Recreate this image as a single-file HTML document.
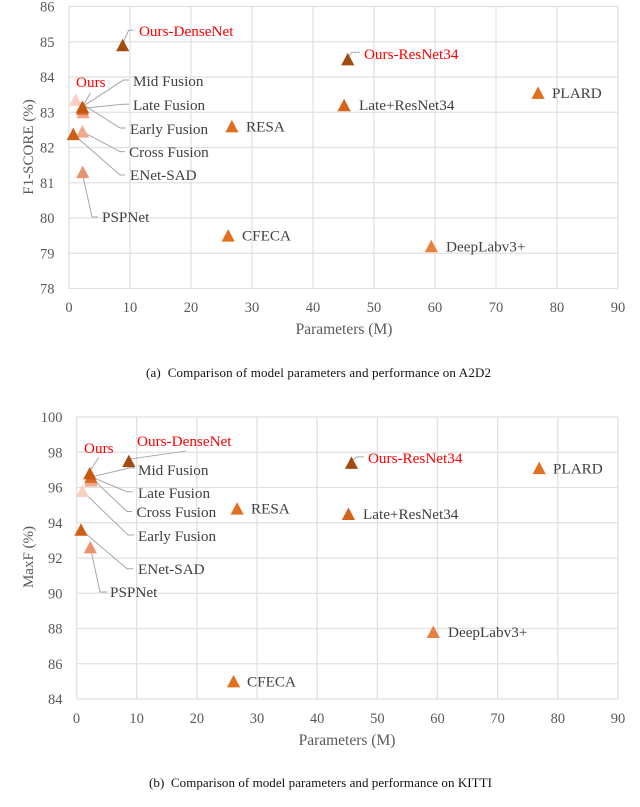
<!DOCTYPE html>
<html lang="en">
<head>
<meta charset="utf-8">
<title>Model parameters vs performance</title>
<style>
html,body{margin:0;padding:0;background:#fff;}
#stage{display:block;width:640px;height:807px;font-family:"Liberation Serif",serif;}
</style>
</head>
<body>
<svg id="stage" xmlns="http://www.w3.org/2000/svg" width="640" height="807" viewBox="0 0 640 807"></svg>
<script>
// ---- data ----
const modelNames = ["Late Fusion","Cross Fusion","Early Fusion","PSPNet","ENet-SAD","Mid Fusion","Ours","Ours-DenseNet","Ours-ResNet34","Late+ResNet34","RESA","CFECA","PLARD","DeepLabv3+"];
const a2d2Params = [2.3,2.2,1.1,2.25,0.7,2.2,2.2,8.8,45.7,45.1,26.7,26.1,76.9,59.4];
const a2d2Scores = [83.0,82.45,83.35,81.3,82.38,83.1,83.15,84.9,84.5,83.2,82.6,79.5,83.55,79.2];
const kittiParams = [2.4,2.4,1.0,2.3,0.75,2.4,2.2,8.7,45.7,45.2,26.7,26.1,76.9,59.3];
const kittiScores = [96.5,96.4,95.8,92.6,93.6,96.6,96.8,97.5,97.4,94.5,94.8,85.0,97.1,87.8];
const xTickLabels = [0,10,20,30,40,50,60,70,80,90];
const a2d2YTickLabels = [78,79,80,81,82,83,84,85,86];
const kittiYTickLabels = [84,86,88,90,92,94,96,98,100];

// ---- styling, keyed by model ----
const markerColors = {
  "Late Fusion":"#f2a487","Cross Fusion":"#f1a98e","Early Fusion":"#f9cfc2","PSPNet":"#ea9371",
  "ENet-SAD":"#cf5f18","Mid Fusion":"#d9692a","Ours":"#c4590f","Ours-DenseNet":"#a34c12",
  "Ours-ResNet34":"#a34c12","Late+ResNet34":"#d5641b","RESA":"#e0701f","CFECA":"#e0701f",
  "PLARD":"#e0701f","DeepLabv3+":"#e8813f"
};
const redLabels = ["Ours","Ours-DenseNet","Ours-ResNet34"];

// label offset from marker, then leader vertices relative to marker
const a2d2Layout = {
  "Ours-DenseNet":{label:[16.3,-14.3],leader:[[0,-2],[6,-15],[11,-15]]},
  "Ours":{label:[-6.4,-25],leader:[[1,-2],[8,-14]]},
  "Mid Fusion":{label:[50.6,-27.7],leader:[[0,-2],[41,-28.7],[46.6,-28.7]]},
  "Late Fusion":{label:[50,-7.2],leader:[[0,-4],[40,-8],[46,-8]]},
  "Early Fusion":{label:[54.3,29.1],leader:[[0,0],[44.3,28.1],[50.3,28.1]]},
  "Cross Fusion":{label:[46.6,20.3],leader:[[0,0],[37.6,20],[42.6,20]]},
  "ENet-SAD":{label:[56.7,40.9],leader:[[0,0],[46.7,40.9],[51.7,40.9]]},
  "PSPNet":{label:[19.3,44.8],leader:[[0,3],[9.3,44.8],[15.3,44.8]]},
  "RESA":{label:[14.1,0]},
  "CFECA":{label:[13.8,0]},
  "Ours-ResNet34":{label:[16.2,-5.4],leader:[[0,-2],[4,-7],[12,-7]]},
  "Late+ResNet34":{label:[14.9,0]},
  "PLARD":{label:[13.9,0]},
  "DeepLabv3+":{label:[14.7,0.5]}
};
const kittiLayout = {
  "Ours-DenseNet":{label:[8.2,-20.1],leader:[[1,-2],[57,-10]]},
  "Ours":{label:[-5.7,-25.4],leader:[[0,-2],[9,-16]]},
  "Mid Fusion":{label:[47,-6.9],leader:[[0,0],[39,-9],[44,-9]]},
  "Late Fusion":{label:[47,14.3],leader:[[0,-2],[36,13],[42,13]]},
  "Cross Fusion":{label:[45.5,31.5],leader:[[-1,-4],[36,31],[41,31]]},
  "Early Fusion":{label:[55.5,45],leader:[[0,0],[45.5,44],[51.5,44]]},
  "ENet-SAD":{label:[57,39.2],leader:[[0,0],[46,39],[52,39]]},
  "PSPNet":{label:[19.7,44.6],leader:[[0,0],[9.7,44.6],[16.7,44.6]]},
  "RESA":{label:[13.8,0]},
  "CFECA":{label:[13.5,0]},
  "Ours-ResNet34":{label:[16.5,-4.8],leader:[[0,-2],[5.5,-6],[12.5,-6]]},
  "Late+ResNet34":{label:[14.5,0]},
  "PLARD":{label:[13.8,0.5]},
  "DeepLabv3+":{label:[14.7,0]}
};

const NS = "http://www.w3.org/2000/svg";
const stage = document.getElementById("stage");

function make(parent, tag, attrs, content) {
  const node = document.createElementNS(NS, tag);
  for (const k in attrs) node.setAttribute(k, attrs[k]);
  if (content !== undefined) node.textContent = content;
  parent.appendChild(node);
  return node;
}
function slug(s) {
  return String(s).toLowerCase().replace(/\+/g, "-plus").replace(/[^a-z0-9]+/g, "-");
}

function drawChart(cfg) {
  const root = make(stage, "g", {});
  
  

  const xMin = xTickLabels[0], xMax = xTickLabels[xTickLabels.length - 1];
  const yMin = cfg.yTicks[0], yMax = cfg.yTicks[cfg.yTicks.length - 1];
  const sx = v => cfg.left + (v - xMin) / (xMax - xMin) * (cfg.right - cfg.left);
  const sy = v => cfg.bottom - (v - yMin) / (yMax - yMin) * (cfg.bottom - cfg.top);

  cfg.yTicks.forEach(t => {
    const line = make(root, "line", {x1:cfg.left, x2:cfg.right, y1:sy(t), y2:sy(t), stroke:"#e1e1e1", "stroke-width":1.3});
    
    
    const label = make(root, "text", {x:cfg.yTickRight, y:sy(t) + 5, "text-anchor":"end", "font-size":14.5, fill:"#595959"}, t);
    
    
  });
  xTickLabels.forEach(t => {
    const line = make(root, "line", {x1:sx(t), x2:sx(t), y1:cfg.top, y2:cfg.bottom, stroke:"#e1e1e1", "stroke-width":1.3});
    
    
    const label = make(root, "text", {x:sx(t), y:cfg.xTickY, "text-anchor":"middle", "font-size":14.5, fill:"#595959"}, t);
    
    
  });

  const xTitle = make(root, "text", {x:cfg.xTitleX, y:cfg.xTitleY, "text-anchor":"middle", "font-size":15.5, fill:"#595959"}, "Parameters (M)");
  
  

  const yTitle = make(root, "text", {transform:"translate(33 " + cfg.yTitleY + ") rotate(-90)", "text-anchor":"middle", "font-size":15, fill:"#595959"}, cfg.yTitle);
  
  

  modelNames.forEach((name, i) => {
    const spec = cfg.layout[name];
    if (!spec.leader) return;
    const px = sx(cfg.xs[i]), py = sy(cfg.ys[i]);
    const pts = spec.leader.map(p => (px + p[0]) + "," + (py + p[1])).join(" ");
    const leader = make(root, "polyline", {points:pts, fill:"none", stroke:"#a6a6a6", "stroke-width":1});
    
    
  });

  modelNames.forEach((name, i) => {
    const px = sx(cfg.xs[i]), py = sy(cfg.ys[i]);
    const pts = [[px, py - 6.5], [px - 6.6, py + 6], [px + 6.6, py + 6]].map(p => p.join(",")).join(" ");
    const marker = make(root, "polygon", {points:pts, fill:markerColors[name]});
    
    
  });

  modelNames.forEach((name, i) => {
    const spec = cfg.layout[name];
    const px = sx(cfg.xs[i]), py = sy(cfg.ys[i]);
    const isRed = redLabels.indexOf(name) >= 0;
    const label = make(root, "text", {x:px + spec.label[0], y:py + spec.label[1] + 5, "font-size":15.2, fill:isRed ? "#ff0000" : "#404040"}, name);
    
    
  });

  const caption = make(root, "text", {x:cfg.captionX, y:cfg.captionY, "font-size":13, fill:"#111111", textLength:cfg.captionW, lengthAdjust:"spacing"}, cfg.caption);
  
  
}

drawChart({
  id:"a2d2", left:69, right:618, top:6.5, bottom:288.5,
  xs:a2d2Params, ys:a2d2Scores, yTicks:a2d2YTickLabels, layout:a2d2Layout,
  yTickRight:54.5, xTickY:312, xTitleX:344, xTitleY:334,
  yTitle:"F1-SCORE (%)", yTitleY:147,
  caption:"(a)\u00a0\u00a0Comparison of model parameters and performance on A2D2",
  captionX:146, captionY:377, captionW:345
});
drawChart({
  id:"kitti", left:76.5, right:618, top:417, bottom:699,
  xs:kittiParams, ys:kittiScores, yTicks:kittiYTickLabels, layout:kittiLayout,
  yTickRight:62.5, xTickY:723, xTitleX:347, xTitleY:745,
  yTitle:"MaxF (%)", yTitleY:557,
  caption:"(b)\u00a0\u00a0Comparison of model parameters and performance on KITTI",
  captionX:149, captionY:787, captionW:343
});
</script>
</body>
</html>
